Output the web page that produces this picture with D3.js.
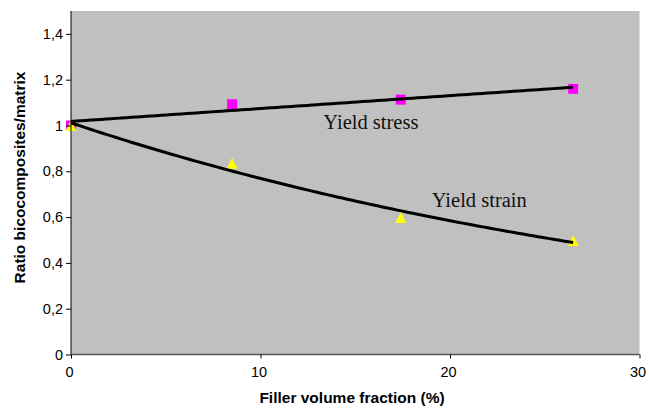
<!DOCTYPE html>
<html>
<head>
<meta charset="utf-8">
<script src="https://cdn.jsdelivr.net/npm/d3@7"></script>
<style>
  html, body { margin: 0; padding: 0; background: #fff; }
  svg { display: block; }
</style>
</head>
<body>
<svg id="chart" width="649" height="408"></svg>
<script>
// Filler volume fraction (%) for each composite
const fillerFraction = [0, 8.5, 17.4, 26.5];
// Ratio composite / matrix
const yieldStress = [1.0, 1.093, 1.113, 1.16];
const yieldStrain = [1.0, 0.835, 0.598, 0.498];

const xTicks = [0, 10, 20, 30];
const yTicks = [0, 0.2, 0.4, 0.6, 0.8, 1, 1.2, 1.4];

const xTitle = "Filler volume fraction (%)";
const yTitle = "Ratio bicocomposites/matrix";
const stressLabel = "Yield stress";
const strainLabel = "Yield strain";

const width = 649, height = 408;
const margin = { top: 11, right: 9.5, bottom: 53.5, left: 71 };

const svg = d3.select("#chart");

const x = d3.scaleLinear().domain([0, 30]).range([margin.left, width - margin.right]);
const y = d3.scaleLinear().domain([0, 1.5]).range([height - margin.bottom, margin.top]);

// plot area
svg.append("rect")
  .attr("x", x(0)).attr("y", y(1.5))
  .attr("width", x(30) - x(0)).attr("height", y(0) - y(1.5))
  .attr("fill", "#c0c0c0");

// least-squares fits: linear for stress, exponential for strain
function linearFit(xs, ys) {
  const mx = d3.mean(xs), my = d3.mean(ys);
  let sxy = 0, sxx = 0;
  xs.forEach((v, i) => { sxy += (v - mx) * (ys[i] - my); sxx += (v - mx) ** 2; });
  const b = sxy / sxx;
  return { a: my - b * mx, b };
}
const stressFit = linearFit(fillerFraction, yieldStress);
const strainLog = linearFit(fillerFraction, yieldStrain.map(Math.log));
const stressTrend = t => stressFit.a + stressFit.b * t;
const strainTrend = t => Math.exp(strainLog.a) * Math.exp(strainLog.b * t);

const xMax = d3.max(fillerFraction);
const samples = d3.range(0, 101).map(i => xMax * i / 100);

const line = fn => d3.line().x(t => x(t)).y(t => y(fn(t)));

// markers
const g = svg.append("g");
g.selectAll("rect.stress").data(fillerFraction).join("rect")
  .attr("class", "stress")
  .attr("x", (d) => x(d) - 5).attr("y", (d, i) => y(yieldStress[i]) - 5)
  .attr("width", 10).attr("height", 10)
  .attr("fill", "#ff00ff");

g.selectAll("path.strain").data(fillerFraction).join("path")
  .attr("class", "strain")
  .attr("transform", (d, i) => `translate(${x(d)},${y(yieldStrain[i])})`)
  .attr("d", "M0,-5.5L5.5,5.5L-5.5,5.5Z")
  .attr("fill", "#ffff00");

// trend lines
svg.append("path").attr("d", line(stressTrend)(samples))
  .attr("fill", "none").attr("stroke", "#000").attr("stroke-width", 3);
svg.append("path").attr("d", line(strainTrend)(samples))
  .attr("fill", "none").attr("stroke", "#000").attr("stroke-width", 3);

// axes
const yAxis = svg.append("g")
  .attr("transform", `translate(${x(0)},0)`)
  .call(d3.axisLeft(y).tickValues(yTicks).tickSize(5).tickPadding(3)
    .tickFormat(d => String(d).replace(".", ",")));
yAxis.select(".domain").attr("d", `M0,${y(0)}V${y(1.5)}`).attr("stroke", "#000");
yAxis.selectAll("text").attr("font-family", "Liberation Sans, Arial, sans-serif")
  .attr("font-size", 14.5).attr("fill", "#000");

const xAxis = svg.append("g")
  .attr("transform", `translate(0,${y(0)})`)
  .call(d3.axisBottom(x).tickValues(xTicks).tickSize(4).tickPadding(8));
xAxis.select(".domain").attr("d", `M${x(0)},0H${x(30)}`).attr("stroke", "#555").attr("stroke-width", 1.5);
xAxis.selectAll("text").attr("font-family", "Liberation Sans, Arial, sans-serif")
  .attr("font-size", 14.5).attr("fill", "#000").attr("dx", -2);

// axis titles
svg.append("text")
  .attr("x", 352).attr("y", 403)
  .attr("text-anchor", "middle")
  .attr("font-family", "Liberation Sans, Arial, sans-serif")
  .attr("font-weight", "bold").attr("font-size", 15.5)
  .text(xTitle);

svg.append("text")
  .attr("transform", `translate(25,177.5) rotate(-90)`)
  .attr("text-anchor", "middle")
  .attr("font-family", "Liberation Sans, Arial, sans-serif")
  .attr("font-weight", "bold").attr("font-size", 15.5)
  .text(yTitle);

// series labels
svg.append("text")
  .attr("x", 323.3).attr("y", 129)
  .attr("font-family", "Liberation Serif, Times New Roman, serif")
  .attr("font-size", 20.5).attr("fill", "#111")
  .text(stressLabel);
svg.append("text")
  .attr("x", 431.7).attr("y", 206.7)
  .attr("font-family", "Liberation Serif, Times New Roman, serif")
  .attr("font-size", 20.5).attr("fill", "#111")
  .text(strainLabel);
</script>
</body>
</html>
